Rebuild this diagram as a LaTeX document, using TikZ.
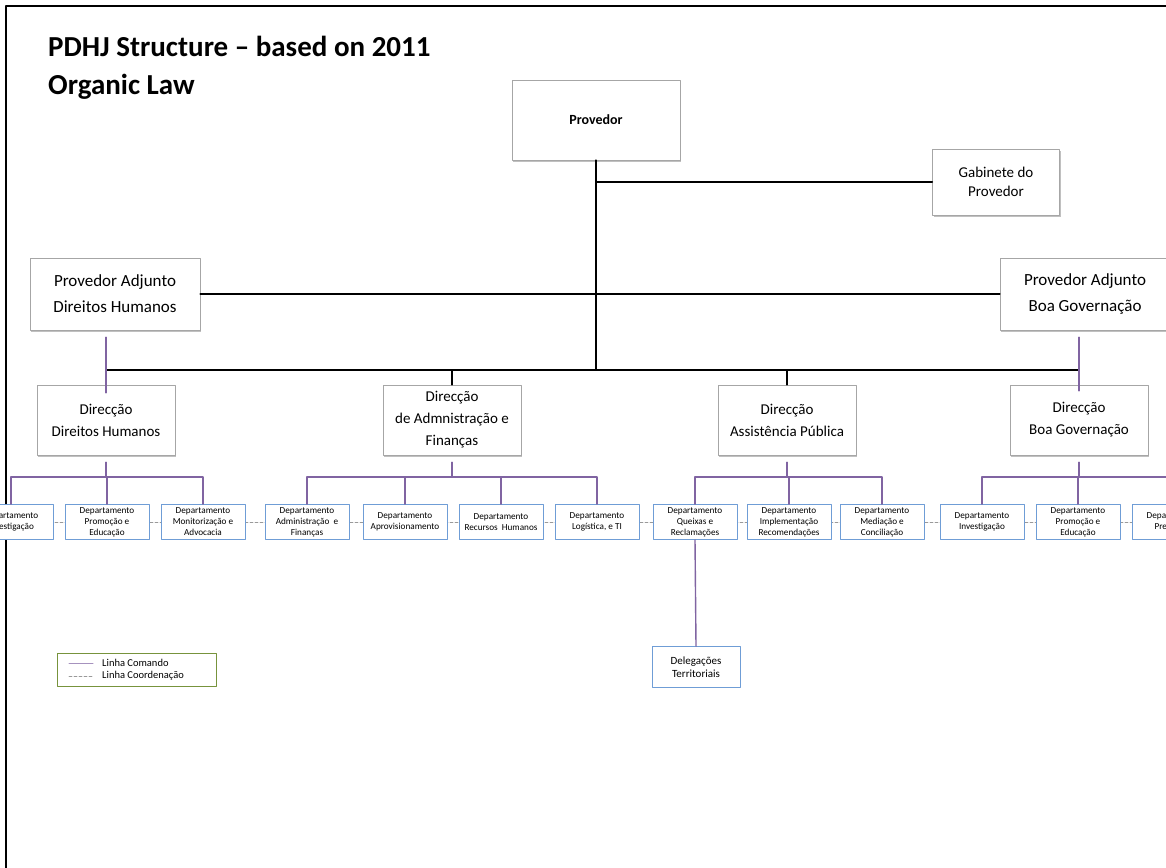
\documentclass[tikz,border=0pt]{standalone}
\usepackage{fontspec}
\setmainfont{Carlito}
\usetikzlibrary{shadows}
\definecolor{cmdpurple}{HTML}{8064A2}
\definecolor{deptblue}{HTML}{6F9DD6}
\definecolor{boxgray}{HTML}{A6A6A6}
\definecolor{legendgreen}{HTML}{77933C}
\tikzset{
  topbox/.style={draw=boxgray, fill=white, align=center, inner sep=0pt,
    drop shadow={fill=black!55, opacity=0.45, shadow xshift=1.3pt, shadow yshift=-1.8pt}},
  adjbox/.style={topbox, minimum width=170pt, minimum height=72pt, font=\fontsize{17}{26}\selectfont},
  dirbox/.style={topbox, minimum width=138pt, minimum height=70pt, font=\fontsize{15}{22}\selectfont},
  deptbox/.style={draw=deptblue, line width=0.9pt, fill=white, align=center, inner sep=0pt,
    minimum width=84pt, minimum height=35pt, font=\fontsize{9.2}{11}\selectfont},
  mainline/.style={draw=black, line width=1.8pt},
  cmdline/.style={draw=cmdpurple, line width=1.4pt},
  coordline/.style={draw=black!40, line width=0.9pt, dash pattern=on 3pt off 2pt},
}
\begin{document}
\begin{tikzpicture}[x=1pt, y=-1pt, line join=round, line cap=round]
  \def\W{1166} \def\H{867}
  \useasboundingbox (0,0) rectangle (\W,\H);
  \clip (0,0) rectangle (\W,\H);
  \draw[line width=2pt] (6,\H+5) -- (6,6) -- (\W+5,6);
  \node[anchor=north west, align=left, inner sep=0pt, font=\bfseries\fontsize{29}{38}\selectfont]
    (title) at (48,36) {PDHJ Structure -- based on 2011\\Organic Law};
  % top of the chart
  \node[topbox, minimum width=168pt, minimum height=80pt, font=\bfseries\fontsize{14}{17}\selectfont]
    (prov) at (596,120) {Provedor};
  \node[topbox, minimum width=127pt, minimum height=66pt, font=\fontsize{15}{19}\selectfont]
    (gab) at (996,182) {Gabinete do\\Provedor};
  \node[adjbox] (adjdh) at (115,294) {Provedor Adjunto\\Direitos Humanos};
  \node[adjbox] (adjbg) at (1085,294) {Provedor Adjunto\\Boa Governação};
  % direccoes
  \node[dirbox] (dirdh) at (106,420) {Direcção\\Direitos Humanos};
  \node[dirbox] (diraf) at (452,420) {Direcção\\de Admnistração e\\Finanças};
  \node[dirbox] (dirap) at (787,420) {Direcção\\Assistência Pública};
  \node[dirbox] (dirbg) at (1079,420) {Direcção\\Boa Governação};
  % coordination line behind the departments
  \draw[coordline] (0,522) -- (\W,522);
  \foreach \n/\x/\t in {dh1/11/{Departamento\\Investigação},
      dh2/107/{Departamento\\Promoção e\\Educação},
      dh3/203/{Departamento\\Monitorização e\\Advocacia},
      af1/307/{Departamento\\Administração~ e\\Finanças},
      af2/405/{Departamento\\Aprovisionamento},
      af3/501/{Departamento\\Recursos~ Humanos},
      af4/597/{Departamento\\Logística, e TI},
      ap1/695/{Departamento\\Queixas e\\Reclamações},
      ap2/789/{Departamento\\Implementação\\Recomendações},
      ap3/882/{Departamento\\Mediação e\\Conciliação},
      bg1/982/{Departamento\\Investigação},
      bg2/1078/{Departamento\\Promoção e\\Educação},
      bg3/1174/{Departamento\\Prevenção}}
    \node[deptbox] (\n) at (\x,522) {\t};
  \node[deptbox, minimum width=88pt, minimum height=41pt, font=\fontsize{11}{13}\selectfont]
    (deleg) at (696,667) {Delegações\\Territoriais};
  % black lines
  \coordinate (mainbar) at (0,370);
  \draw[mainline] (prov.south) -- (prov.south |- mainbar);
  \draw[mainline, line width=1.5pt] (prov.south |- gab.west) -- (gab.west);
  \draw[mainline, line width=1.5pt] (adjdh.east) -- (adjbg.west);
  \draw[mainline] (dirdh.north |- mainbar) -- (dirbg.north |- mainbar);
  \draw[mainline, line width=1.5pt] (diraf.north |- mainbar) -- (diraf.north);
  \draw[mainline, line width=1.5pt] (dirap.north |- mainbar) -- (dirap.north);
  % purple command lines
  \draw[cmdline] (adjdh.south -| dirdh.north) ++(0,7) -- (dirdh.north) -- ++(0,8);
  \draw[cmdline] (adjbg.south -| dirbg.north) ++(0,7) -- (dirbg.north) -- ++(0,6);
  \coordinate (grpbar) at (0,477);
  \foreach \d/\a/\b in {dirdh/dh1/dh3, diraf/af1/af4, dirap/ap1/ap3, dirbg/bg1/bg3} {
    \draw[cmdline] (\d.south) ++(0,7) -- (\d.south |- grpbar);
    \draw[cmdline] (\a.north) |- (grpbar -| \b.north) -- (\b.north);
  }
  \foreach \n in {dh2, af2, af3, ap2, bg2}
    \draw[cmdline] (\n.north) -- (\n.north |- grpbar);
  \draw[cmdline] (ap1.south) -- (deleg.north);
  % legend
  \node[draw=legendgreen, line width=0.8pt, minimum width=159pt, minimum height=33pt, inner sep=0pt]
    (legend) at (136.5,669.5) {};
  \node[anchor=west, inner sep=0pt, font=\fontsize{10.5}{12}\selectfont] (lgcmd) at (102,663) {Linha Comando};
  \node[anchor=west, inner sep=0pt, font=\fontsize{10.5}{12}\selectfont] (lgcoord) at (102,676) {Linha Coordenação};
  \draw[draw=cmdpurple!70, line width=1pt] ([xshift=-33pt]lgcmd.west) -- ([xshift=-9pt]lgcmd.west);
  \draw[coordline, line width=0.8pt] ([xshift=-33pt]lgcoord.west) -- ([xshift=-9pt]lgcoord.west);
\end{tikzpicture}
\end{document}
